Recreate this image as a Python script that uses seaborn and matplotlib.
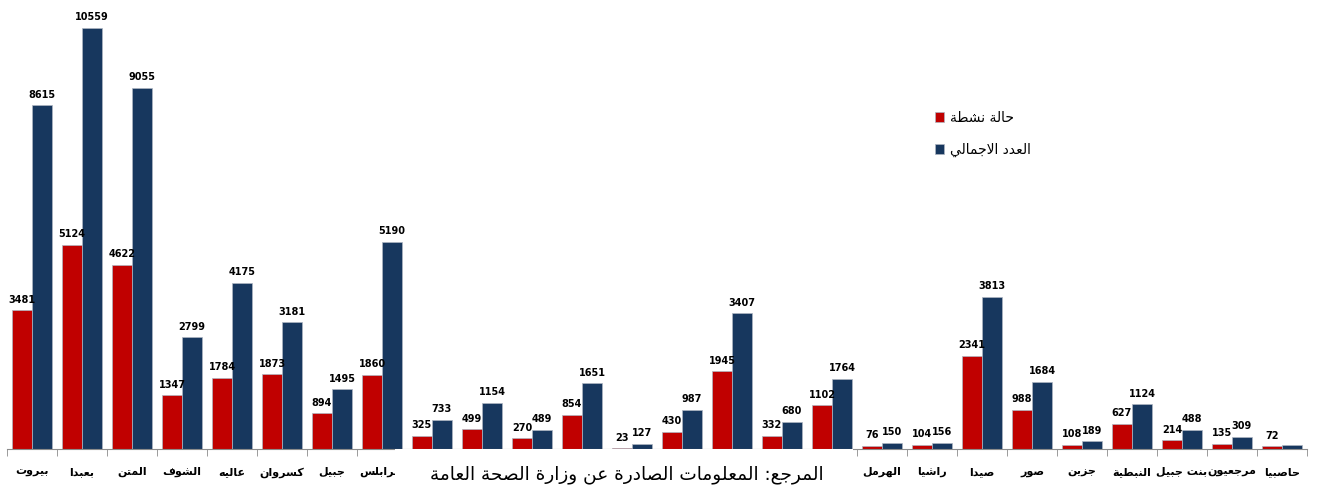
import numpy as np
import pandas as pd
import matplotlib.pyplot as plt
import seaborn as sns
from matplotlib.patches import Rectangle

# الأقضية بترتيب الرسم
districts = ["بيروت", "بعبدا", "المتن", "الشوف", "عاليه", "كسروان", "جبيل", "طرابلس",
             "الكورة", "زغرتا", "البترون", "عكار", "بشري", "المنية الضنية",
             "زحلة", "البقاع الغربي", "بعلبك",
             "الهرمل", "راشيا", "صيدا", "صور", "جزين", "النبطية", "بنت جبيل", "مرجعيون", "حاصبيا"]
active = [3481, 5124, 4622, 1347, 1784, 1873, 894, 1860,
          325, 499, 270, 854, 23, 430, 1945, 332, 1102,
          76, 104, 2341, 988, 108, 627, 214, 135, 72]
total = [8615, 10559, 9055, 2799, 4175, 3181, 1495, 5190,
         733, 1154, 489, 1651, 127, 987, 3407, 680, 1764,
         150, 156, 3813, 1684, 189, 1124, 488, 309, 110]
series = ["حالة نشطة", "العدد الاجمالي"]
source_note = "المرجع: المعلومات الصادرة عن وزارة الصحة العامة"

COLORS = {series[0]: "#C00000", series[1]: "#17375E"}

# matplotlib does no Arabic shaping: map letters to presentation forms by hand
# (isolated code point, number of forms): 4 = joins both sides, 2 = right side only
FORMS = {
    "ا": (0xFE8D, 2), "ب": (0xFE8F, 4), "ة": (0xFE93, 2), "ت": (0xFE95, 4),
    "ج": (0xFE9D, 4), "ح": (0xFEA1, 4), "د": (0xFEA9, 2), "ر": (0xFEAD, 2),
    "ز": (0xFEAF, 2), "س": (0xFEB1, 4), "ش": (0xFEB5, 4), "ص": (0xFEB9, 4),
    "ض": (0xFEBD, 4), "ط": (0xFEC1, 4), "ع": (0xFEC9, 4), "غ": (0xFECD, 4),
    "ف": (0xFED1, 4), "ق": (0xFED5, 4), "ك": (0xFED9, 4), "ل": (0xFEDD, 4),
    "م": (0xFEE1, 4), "ن": (0xFEE5, 4), "ه": (0xFEE9, 4), "و": (0xFEED, 2),
    "ي": (0xFEF1, 4), "لا": (0xFEFB, 2),
}


def shape(text):
    """
    Arabic text -> visual order string with joined letter forms
    """
    chars = []
    i = 0
    while i < len(text):
        if text[i] == "ل" and i + 1 < len(text) and text[i + 1] == "ا":
            chars.append("لا")
            i += 2
        else:
            chars.append(text[i])
            i += 1
    out = []
    for k, ch in enumerate(chars):
        if ch not in FORMS:
            out.append(ch)
            continue
        base, n = FORMS[ch]
        prev = chars[k - 1] if k > 0 else None
        nxt = chars[k + 1] if k + 1 < len(chars) else None
        join_prev = prev in FORMS and FORMS[prev][1] == 4
        join_next = n == 4 and nxt in FORMS
        if join_prev and join_next:
            off = 3
        elif join_next:
            off = 2
        elif join_prev:
            off = 1
        else:
            off = 0
        out.append(chr(base + off))
    return "".join(reversed(out))


def main():
    df = pd.DataFrame({
        "district": districts * 2,
        "series": [series[0]] * len(districts) + [series[1]] * len(districts),
        "cases": active + total,
    })

    W, H = 1318, 493
    fig = plt.figure(figsize=(W / 100, H / 100), dpi=100)
    ax = fig.add_axes([7 / W, 44 / H, 1300 / W, 449 / H])

    sns.barplot(data=df, x="district", y="cases", hue="series",
                order=districts, hue_order=series, palette=COLORS,
                saturation=1, errorbar=None, width=0.8,
                edgecolor="#AEB6C2", linewidth=0.5, ax=ax)

    # قيم الأعمدة
    for cont, vals in zip(ax.containers, [active, total]):
        labels = [str(v) for v in vals]
        if cont is ax.containers[1]:
            labels[-1] = ""  # لا تظهر قيمة حاصبيا في الأصل
        ax.bar_label(cont, labels=labels, padding=4, fontsize=7, fontweight="bold")

    ax.set_xlim(-0.5, len(districts) - 0.5)
    ax.set_ylim(0, 11260)
    ax.set_xlabel("")
    ax.set_ylabel("")
    ax.set_yticks([])
    for s in ["left", "top", "right"]:
        ax.spines[s].set_visible(False)
    ax.spines["bottom"].set_color("#8C8C8C")

    # أسماء الأقضية الوسطى مغطاة بمربع المرجع في الأصل
    tick_text = [shape(d) if not (8 <= i <= 16) else "" for i, d in enumerate(districts)]
    ax.set_xticks(range(len(districts)))
    ax.set_xticklabels(tick_text, fontsize=8, fontweight="bold")
    ax.tick_params(axis="x", which="major", length=0, pad=13)
    ax.set_xticks(np.arange(-0.5, len(districts)), minor=True)
    ax.tick_params(axis="x", which="minor", length=5, color="#8C8C8C")

    handles, _ = ax.get_legend_handles_labels()
    ax.legend(handles, [shape(s) for s in series], loc="upper left",
              bbox_to_anchor=(922 / W, 1 - 98 / H), bbox_transform=fig.transFigure,
              frameon=False, fontsize=10, handlelength=0.7, handleheight=0.7,
              handletextpad=0.4, labelspacing=1.3)

    # مربع المرجع فوق أسماء الأقضية الوسطى
    fig.add_artist(Rectangle((395 / W, 0), 458 / W, 44.5 / H, transform=fig.transFigure,
                             facecolor="white", edgecolor="none", zorder=5))
    fig.text(627 / W, 1 - 475 / H, shape(source_note), ha="center", va="center",
             fontsize=13.3, zorder=6)

    fig.savefig("out.png", dpi=100)


if __name__ == "__main__":
    main()
